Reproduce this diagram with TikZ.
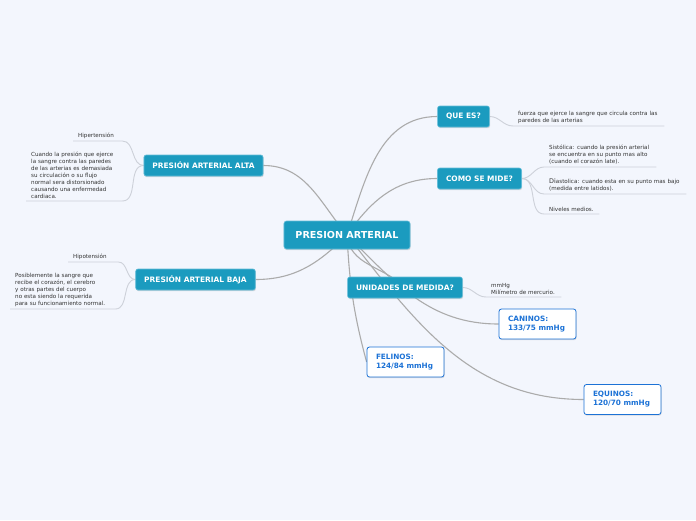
\documentclass[tikz,border=0pt]{standalone}
\usepackage{fontspec}
\setmainfont{DejaVu Sans}
\usetikzlibrary{backgrounds,shadows}
\definecolor{mapbg}{HTML}{F3F6FD}
\definecolor{topicfill}{HTML}{1B9BBF}
\definecolor{topicedge}{HTML}{62BCD8}
\definecolor{boxblue}{HTML}{1C72D6}
\definecolor{linkgray}{HTML}{ABABAB}
\definecolor{twiggray}{HTML}{CDD1D9}
\definecolor{leaftext}{HTML}{333333}

\begin{document}
\begin{tikzpicture}[
  x=1pt, y=1pt,
  rootbox/.style={
    draw=topicedge,
    line width=0.6pt,
    fill=topicfill,
    rounded corners=2.5pt,
    text=white,
    font=\fontsize{9.6}{11}\selectfont\bfseries,
    inner xsep=11.5pt,
    minimum height=28pt,
    drop shadow={shadow xshift=0.6pt, shadow yshift=-1.2pt, opacity=0.25}
  },
  topic/.style={
    draw=topicedge,
    line width=0.6pt,
    fill=topicfill,
    rounded corners=2.2pt,
    text=white,
    font=\fontsize{7.45}{9}\selectfont\bfseries,
    inner xsep=8.5pt,
    minimum height=21pt,
    drop shadow={shadow xshift=0.6pt, shadow yshift=-1.2pt, opacity=0.25}
  },
  animal/.style={
    draw=boxblue,
    line width=0.8pt,
    fill=white,
    rounded corners=2.5pt,
    text=boxblue,
    align=left,
    font=\fontsize{7.3}{9}\selectfont\bfseries,
    text width=59pt,
    inner xsep=9pt,
    minimum height=30pt,
    drop shadow={shadow xshift=0.6pt, shadow yshift=-1.2pt, opacity=0.25}
  },
  leaf/.style={
    anchor=south west,
    align=left,
    text=leaftext,
    font=\fontsize{5.6}{6.9}\selectfont,
    inner xsep=5pt,
    inner ysep=2.5pt,
    text width=#1
  },
  link/.style={draw=linkgray, line width=1.1pt},
  twig/.style={draw=twiggray, line width=0.9pt}
]
\useasboundingbox (0,0) rectangle (696,-520);

\node[rootbox] (presion) at (347,-235) {PRESION ARTERIAL};

\node[topic] (quees) at (463.5,-116.5) {QUE ES?};
\node[topic] (como) at (479.5,-178.5) {COMO SE MIDE?};
\node[topic] (unid) at (405,-287.5) {UNIDADES DE MEDIDA?};
\node[topic] (alta) at (203.5,-165.5) {PRESIÓN ARTERIAL ALTA};
\node[topic] (baja) at (195.5,-279.5) {PRESIÓN ARTERIAL BAJA};

\node[animal] (caninos) at (537.5,-324) {CANINOS:\\133/75 mmHg};
\node[animal] (felinos) at (405.5,-362) {FELINOS:\\124/84 mmHg};
\node[animal] (equinos) at (622.5,-399.5) {EQUINOS:\\120/70 mmHg};

\node[leaf=141pt] (definicion) at (513,-126) {fuerza que ejerce la sangre que circula contra las\\paredes de las arterias};
\node[leaf=102pt] (sisto) at (544,-167) {Sistólica: cuando la presión arterial\\se encuentra en su punto mas alto\\(cuando el corazón late).};
\node[leaf=132pt] (diasto) at (544,-194) {{\fontsize{6.4}{6.9}\selectfont Di}astolica: cuando esta en su punto mas bajo\\(medida entre latidos).};
\node[leaf=45pt] (niveles) at (544,-214) {Niveles medios.};
\node[leaf=65pt] (mmhg) at (486,-297) {mmHg\\Milímetro de mercurio.};
\node[leaf=39pt] (hiper) at (73,-141) {Hipertensión};
\node[leaf=86pt] (cuando) at (26,-201) {Cuando la presión que ejerce\\la sangre contra las paredes\\de las arterias es demasiada\\su circulación o su flujo\\normal sera distorsionado\\causando una enfermedad\\cardiaca.};
\node[leaf=40pt] (hipo) at (68,-262) {Hipotensión};
\node[leaf=95pt] (posible) at (10,-309) {Posiblemente la sangre que\\recibe el corazón, el cerebro\\y otras partes del cuerpo\\no esta siendo la requerida\\para su funcionamiento normal.};

\begin{scope}[on background layer]
\fill[mapbg] (0,0) rectangle (696,-520);
\draw[link] (presion.center) to[out=72,in=180] (quees.west);
\draw[link] (presion.center) to[out=55,in=180] (como.west);
\draw[link] (presion.center) to[out=130,in=0] (alta.east);
\draw[link] (presion.center) to[out=-135,in=0] (baja.east);
\draw[link] (presion.center) to[out=-85,in=135] (unid.center);
\draw[link] (presion.center) to[out=-87,in=105] (felinos.west);
\draw[link] (presion.center) to[out=-45,in=180] (caninos.west);
\draw[link] (presion.center) to[out=-52,in=180] (equinos.west);

\draw[twig] (quees.east) to[out=0,in=180] (definicion.south west) -- (definicion.south east);
\draw[twig] (como.east) to[out=0,in=180] (sisto.south west) -- (sisto.south east);
\draw[twig] (como.east) to[out=0,in=180] (diasto.south west) -- (diasto.south east);
\draw[twig] (como.east) to[out=0,in=180] (niveles.south west) -- (niveles.south east);
\draw[twig] (unid.east) to[out=0,in=180] (mmhg.south west) -- (mmhg.south east);
\draw[twig] (alta.west) to[out=180,in=0] (hiper.south east) -- (hiper.south west);
\draw[twig] (alta.west) to[out=180,in=0] (cuando.south east) -- (cuando.south west);
\draw[twig] (baja.west) to[out=180,in=0] (hipo.south east) -- (hipo.south west);
\draw[twig] (baja.west) to[out=180,in=0] (posible.south east) -- (posible.south west);
\end{scope}
\end{tikzpicture}
\end{document}
